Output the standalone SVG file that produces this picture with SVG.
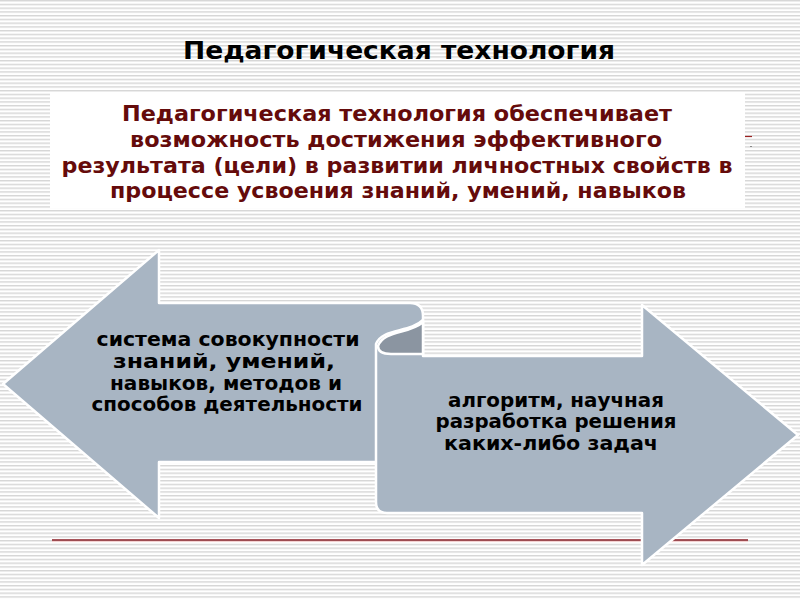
<svg xmlns="http://www.w3.org/2000/svg" width="800" height="600" viewBox="0 0 800 600">
<defs>
<pattern id="stripes" width="8" height="3.75" patternUnits="userSpaceOnUse">
<rect width="8" height="3.75" fill="#ffffff"/>
<rect y="0" width="8" height="1.4" fill="#d6d6d6"/>
</pattern>
<style>
.t{font-family:"DejaVu Sans","Liberation Sans",sans-serif;font-weight:bold;text-anchor:middle}
.title{font-size:24px;fill:#000}
.box{font-size:21px;fill:#650b0b}
.arr{font-size:19px;fill:#000}
.shape{fill:#a8b5c3;stroke:#fff;stroke-width:2.5;stroke-linejoin:round}
.curl{fill:#8b95a1;stroke:#fff;stroke-width:2.5;stroke-linejoin:round}
</style>
</defs>
<rect width="800" height="600" fill="url(#stripes)"/>
<g id="title">
<text class="t title" x="399" y="59" textLength="432" lengthAdjust="spacingAndGlyphs">Педагогическая технология</text>
</g>
<g id="definition">
<rect x="50" y="92" width="695" height="116" fill="#ffffff"/>
<text class="t box" x="397" y="121" textLength="550" lengthAdjust="spacingAndGlyphs">Педагогическая технология обеспечивает</text>
<text class="t box" x="396" y="147" textLength="532" lengthAdjust="spacingAndGlyphs">возможность достижения эффективного</text>
<text class="t box" x="397" y="173" textLength="671" lengthAdjust="spacingAndGlyphs">результата (цели) в развитии личностных свойств в</text>
<text class="t box" x="398" y="198" textLength="576" lengthAdjust="spacingAndGlyphs">процессе усвоения знаний, умений, навыков</text>
</g>
<g id="marks">
<line x1="745" y1="136.5" x2="752" y2="136.5" stroke="#9b2020" stroke-width="1.2"/>
<rect x="750.5" y="146" width="1" height="1" fill="#333"/>
<line x1="52" y1="540" x2="748" y2="540" stroke="#8a1c24" stroke-width="1.4"/>
<line x1="52" y1="541.6" x2="748" y2="541.6" stroke="#f3cfcf" stroke-width="1"/>
</g>
<g id="connectors">
<path id="left-arrow" class="shape" d="M3,384 L159,250 L159,303 L410,303 Q423,303 423,316 L423,462 L159,462 L159,518 Z"/>
<path id="right-arrow" class="shape" d="M376,344 C382,328 410,333 423,320 L423,356 L642,356 L642,305 L798,435 L642,565 L642,513 L387,513 Q376,513 376,502 Z"/>
<path id="curl" class="curl" d="M378,346 C384,330 410,334 423,322 L423,354 L391,354 Q378,354 378,346 Z"/>
</g>
<g id="node-left">
<text class="t arr" x="228" y="346" textLength="263" lengthAdjust="spacingAndGlyphs">система совокупности</text>
<text class="t arr" x="224" y="368" textLength="222" lengthAdjust="spacingAndGlyphs">знаний, умений,</text>
<text class="t arr" x="226" y="390" textLength="232" lengthAdjust="spacingAndGlyphs">навыков, методов и</text>
<text class="t arr" x="227" y="411" textLength="271" lengthAdjust="spacingAndGlyphs">способов деятельности</text>
</g>
<g id="node-right">
<text class="t arr" x="556" y="407" textLength="216" lengthAdjust="spacingAndGlyphs">алгоритм, научная</text>
<text class="t arr" x="556" y="428" textLength="241" lengthAdjust="spacingAndGlyphs">разработка решения</text>
<text class="t arr" x="551" y="450" textLength="214" lengthAdjust="spacingAndGlyphs">каких-либо задач</text>
</g>
</svg>
